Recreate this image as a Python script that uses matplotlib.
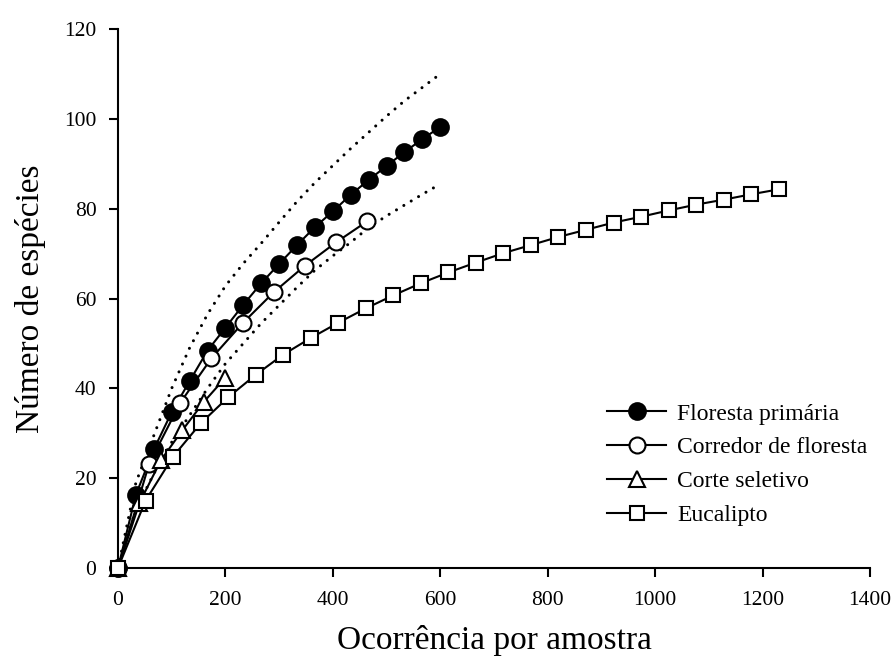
import matplotlib
matplotlib.use('Agg')
import matplotlib.pyplot as plt
import numpy as np

plt.rcParams['font.family'] = ['Liberation Serif', 'DejaVu Serif']

# Floresta primaria (filled circles) + dotted confidence bounds
x_fp = [0, 33.3, 66.7, 100, 133.3, 166.7, 200, 233.3, 266.7, 300, 333.3, 366.7,
        400, 433.3, 466.7, 500, 533.3, 566.7, 600]
y_fp = [0, 16.3, 26.4, 34.7, 41.6, 48.4, 53.5, 58.6, 63.4, 67.7, 71.9, 75.9,
        79.4, 83.1, 86.4, 89.5, 92.6, 95.5, 98.2]
y_fp_upper = [0, 19, 29.5, 40, 49, 56.5, 62.8, 67.8, 72.3, 77, 81.6, 85.8,
              89.6, 93.4, 97, 100.6, 104, 107, 110]
y_fp_lower = [0, 13, 21, 28, 34, 40, 45.5, 50, 54.5, 58.5, 62.5, 66.3,
              69.5, 72.5, 75.8, 78.4, 80.8, 83.2, 85.5]

# Corredor de floresta (open circles)
x_cf = [0, 58, 116, 174, 232, 290, 348, 406, 464]
y_cf = [0, 23.2, 36.8, 46.7, 54.5, 61.4, 67.3, 72.5, 77.2]

# Corte seletivo (triangles)
x_cs = [0, 40, 80, 120, 160, 200]
y_cs = [0, 14.5, 24.0, 30.7, 37.0, 42.4]

# Eucalipto (squares)
x_eu = [0, 51.3, 102.5, 153.8, 205, 256.3, 307.5, 358.8, 410, 461.3, 512.5,
        563.8, 615, 666.3, 717.5, 768.8, 820, 871.3, 922.5, 973.8, 1025,
        1076.3, 1127.5, 1178.8, 1230]
y_eu = [0, 15.0, 24.8, 32.2, 38.0, 43.0, 47.5, 51.2, 54.6, 57.8, 60.7,
        63.4, 65.8, 68.0, 70.1, 71.9, 73.7, 75.3, 76.9, 78.2, 79.6,
        80.9, 82.0, 83.2, 84.3]

labels = ['Floresta primária', 'Corredor de floresta', 'Corte seletivo', 'Eucalipto']

fig = plt.figure(figsize=(8.93, 6.68), dpi=100)
ax = fig.add_axes([118/893, 1 - 568/668, (870-118)/893, (568-29)/668])

# dotted bounds
for yb in (y_fp_upper, y_fp_lower):
    ax.plot(x_fp, yb, color='black', lw=2.2, linestyle=(0, (0.01, 2.8)),
            dash_capstyle='round', zorder=1)

kw = dict(color='black', lw=1.5, mec='black', mew=1.5, clip_on=False)
ax.plot(x_fp, y_fp, marker='o', ms=12, mfc='black', label=labels[0], zorder=3, **kw)
ax.plot(x_cf, y_cf, marker='o', ms=11.5, mfc='white', label=labels[1], zorder=4, **kw)
ax.plot(x_cs, y_cs, marker='^', ms=11, mfc='white', label=labels[2], zorder=5, **kw)
ax.plot(x_eu, y_eu, marker='s', ms=10.5, mfc='white', label=labels[3], zorder=6, **kw)

ax.set_xlim(0, 1400)
ax.set_ylim(0, 120)
ax.set_xticks(np.arange(0, 1401, 200))
ax.set_yticks(np.arange(0, 121, 20))

for s in ['top', 'right']:
    ax.spines[s].set_visible(False)
for s in ['left', 'bottom']:
    ax.spines[s].set_linewidth(1.5)

ax.tick_params(axis='both', direction='out', length=6.5, width=1.5, labelsize=15.5)
ax.tick_params(axis='x', pad=10)
ax.tick_params(axis='y', pad=9)

ax.set_xlabel('Ocorrência por amostra', fontsize=24, labelpad=11)
ax.set_ylabel('Número de espécies', fontsize=24, labelpad=13)

ax.legend(loc='center left', bbox_to_anchor=(586/893, 1 - 464.5/668),
          bbox_transform=fig.transFigure, frameon=False, fontsize=17,
          handlelength=2.5, handletextpad=0.45, labelspacing=0.52)

fig.savefig('out.png', dpi=100)
